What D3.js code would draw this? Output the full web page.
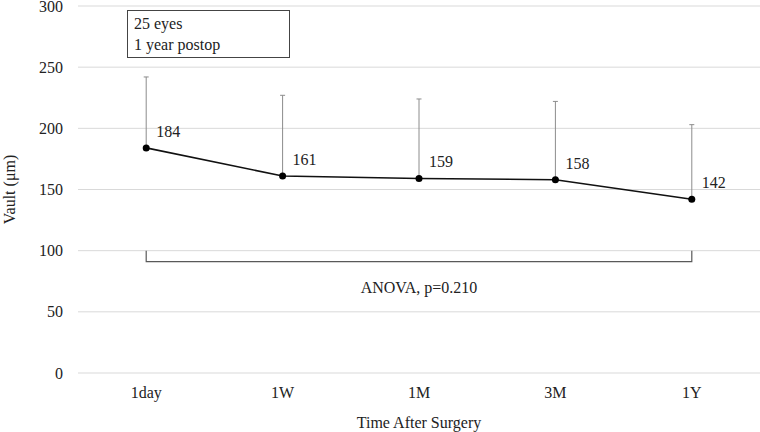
<!DOCTYPE html>
<html><head><meta charset="utf-8">
<script src="https://cdn.jsdelivr.net/npm/d3@7"></script>
<style>body{margin:0;background:#fff}svg text{font-family:"Liberation Serif","Times New Roman",serif;fill:#222}</style>
</head><body>
<svg id="c" width="760" height="432"></svg>
<script>
const categories = ["1day","1W","1M","3M","1Y"];
const means = [184,161,159,158,142];
const sds = [58,66,65,64,61];
const yTicks = [0,50,100,150,200,250,300];
const infoLines = ["25 eyes","1 year postop"];
const anovaText = "ANOVA, p=0.210";
const bracketY = 91;

const svg = d3.select("#c");
const m = {left:78, right:0, top:6, bottom:59};
const W = 760, H = 432;
const x = d3.scaleBand().domain(categories).range([m.left, W - m.right]);
const y = d3.scaleLinear().domain([0,300]).range([H - m.bottom, m.top]);
const cx = d => x(d) + x.bandwidth()/2;

// gridlines
svg.append("g").selectAll("line").data(yTicks).join("line")
  .attr("x1", m.left).attr("x2", W).attr("y1", d=>y(d)).attr("y2", d=>y(d))
  .attr("stroke","#d9d9d9").attr("stroke-width",1);

// y tick labels
svg.append("g").selectAll("text").data(yTicks).join("text")
  .attr("x", 63).attr("y", d=>y(d)).attr("dy","0.35em").attr("text-anchor","end")
  .attr("font-size",16).text(d=>d);

// x tick labels
svg.append("g").selectAll("text").data(categories).join("text")
  .attr("x", d=>cx(d)).attr("y", 398).attr("text-anchor","middle")
  .attr("font-size",16).text(d=>d);

// axis titles
svg.append("text").attr("x", (m.left+W)/2).attr("y", 428).attr("text-anchor","middle")
  .attr("font-size",16).text("Time After Surgery");
svg.append("text").attr("transform",`translate(15,${y(150)}) rotate(-90)`)
  .attr("text-anchor","middle").attr("font-size",16).text("Vault (μm)");

// error bars (upper only)
const eb = svg.append("g").attr("stroke","#8c8c8c").attr("stroke-width",1);
categories.forEach((c,i)=>{
  eb.append("line").attr("x1",cx(c)).attr("x2",cx(c)).attr("y1",y(means[i])).attr("y2",y(means[i]+sds[i]));
  eb.append("line").attr("x1",cx(c)-2.5).attr("x2",cx(c)+2.5).attr("y1",y(means[i]+sds[i])).attr("y2",y(means[i]+sds[i]));
});

// line
const line = d3.line().x((d,i)=>cx(categories[i])).y(d=>y(d));
svg.append("path").datum(means).attr("d",line).attr("fill","none").attr("stroke","#111").attr("stroke-width",1.6);
svg.append("g").selectAll("circle").data(means).join("circle")
  .attr("cx",(d,i)=>cx(categories[i])).attr("cy",d=>y(d)).attr("r",3.5).attr("fill","#000");

// value labels
svg.append("g").selectAll("text").data(means).join("text")
  .attr("x",(d,i)=>cx(categories[i])+10).attr("y",d=>y(d)-11)
  .attr("font-size",16).text(d=>d);

// bracket
const bx1 = cx(categories[0]), bx2 = cx(categories[categories.length-1]);
const by = y(bracketY), byTop = y(100);
svg.append("path").attr("d",`M${bx1},${byTop}V${by}H${bx2}V${byTop}`)
  .attr("fill","none").attr("stroke","#595959").attr("stroke-width",1.2);
svg.append("text").attr("x",(bx1+bx2)/2).attr("y",y(65)).attr("text-anchor","middle")
  .attr("font-size",16).text(anovaText);

// info box
svg.append("rect").attr("x",127.5).attr("y",10.5).attr("width",162).attr("height",47)
  .attr("fill","#fff").attr("stroke","#444").attr("stroke-width",1);
svg.append("g").selectAll("text").data(infoLines).join("text")
  .attr("x",134).attr("y",(d,i)=>29+i*21).attr("font-size",16).text(d=>d);
</script>
</body></html>
